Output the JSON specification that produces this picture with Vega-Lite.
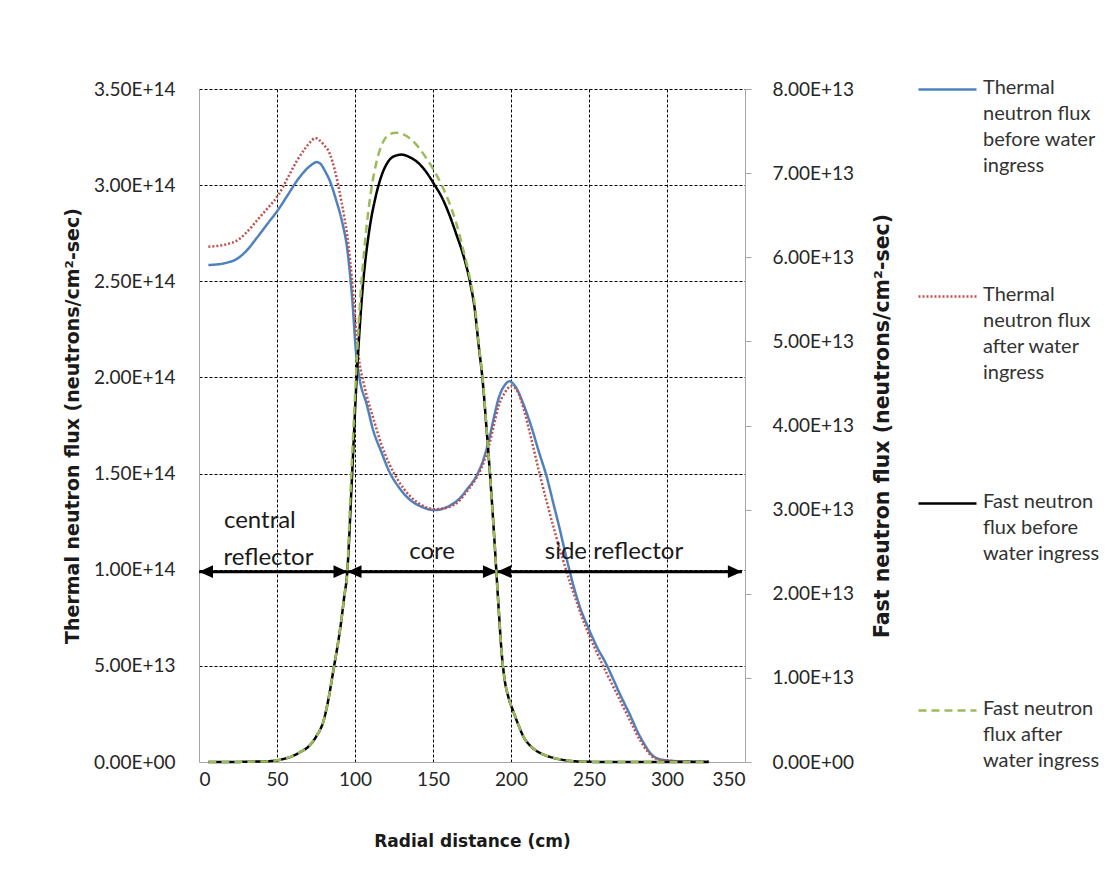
{
  "$schema": "https://vega.github.io/schema/vega-lite/v6.json",
  "width": 546,
  "height": 673,
  "autosize": {"type": "none"},
  "padding": {"left": 199, "top": 89, "right": 372, "bottom": 116},
  "background": "white",
  "config": {
    "font": "Lato",
    "view": {"stroke": null},
    "axis": {
      "labelFont": "Lato", "labelFontSize": 19, "labelColor": "#262626",
      "titleFont": "DejaVu Sans", "titleFontSize": 19, "titleFontWeight": "bold", "titleColor": "#1a1a1a",
      "domainColor": "#a6a6a6", "tickColor": "#a6a6a6",
      "gridColor": "black", "gridDash": [3, 2], "gridWidth": 1
    }
  },
  "datasets": {
    "thermal": [
      {"x": 6, "v": 2.585e14, "series": "Thermal neutron flux before water ingress"},
      {"x": 12, "v": 2.588e14, "series": "Thermal neutron flux before water ingress"},
      {"x": 18, "v": 2.597e14, "series": "Thermal neutron flux before water ingress"},
      {"x": 24, "v": 2.615e14, "series": "Thermal neutron flux before water ingress"},
      {"x": 30, "v": 2.655e14, "series": "Thermal neutron flux before water ingress"},
      {"x": 37, "v": 2.725e14, "series": "Thermal neutron flux before water ingress"},
      {"x": 44, "v": 2.8e14, "series": "Thermal neutron flux before water ingress"},
      {"x": 51, "v": 2.875e14, "series": "Thermal neutron flux before water ingress"},
      {"x": 57, "v": 2.95e14, "series": "Thermal neutron flux before water ingress"},
      {"x": 63, "v": 3.025e14, "series": "Thermal neutron flux before water ingress"},
      {"x": 68, "v": 3.075e14, "series": "Thermal neutron flux before water ingress"},
      {"x": 72, "v": 3.105e14, "series": "Thermal neutron flux before water ingress"},
      {"x": 75.5, "v": 3.12e14, "series": "Thermal neutron flux before water ingress"},
      {"x": 78, "v": 3.11e14, "series": "Thermal neutron flux before water ingress"},
      {"x": 81, "v": 3.07e14, "series": "Thermal neutron flux before water ingress"},
      {"x": 84, "v": 3.02e14, "series": "Thermal neutron flux before water ingress"},
      {"x": 88, "v": 2.92e14, "series": "Thermal neutron flux before water ingress"},
      {"x": 92, "v": 2.8e14, "series": "Thermal neutron flux before water ingress"},
      {"x": 95, "v": 2.67e14, "series": "Thermal neutron flux before water ingress"},
      {"x": 98, "v": 2.43e14, "series": "Thermal neutron flux before water ingress"},
      {"x": 101, "v": 2.1e14, "series": "Thermal neutron flux before water ingress"},
      {"x": 103, "v": 1.99e14, "series": "Thermal neutron flux before water ingress"},
      {"x": 107.5, "v": 1.86e14, "series": "Thermal neutron flux before water ingress"},
      {"x": 111.5, "v": 1.73e14, "series": "Thermal neutron flux before water ingress"},
      {"x": 117, "v": 1.61e14, "series": "Thermal neutron flux before water ingress"},
      {"x": 122, "v": 1.51e14, "series": "Thermal neutron flux before water ingress"},
      {"x": 128, "v": 1.43e14, "series": "Thermal neutron flux before water ingress"},
      {"x": 135, "v": 1.365e14, "series": "Thermal neutron flux before water ingress"},
      {"x": 142, "v": 1.33e14, "series": "Thermal neutron flux before water ingress"},
      {"x": 151, "v": 1.31e14, "series": "Thermal neutron flux before water ingress"},
      {"x": 160, "v": 1.33e14, "series": "Thermal neutron flux before water ingress"},
      {"x": 167, "v": 1.37e14, "series": "Thermal neutron flux before water ingress"},
      {"x": 172, "v": 1.42e14, "series": "Thermal neutron flux before water ingress"},
      {"x": 178, "v": 1.49e14, "series": "Thermal neutron flux before water ingress"},
      {"x": 183, "v": 1.59e14, "series": "Thermal neutron flux before water ingress"},
      {"x": 186, "v": 1.68e14, "series": "Thermal neutron flux before water ingress"},
      {"x": 189, "v": 1.79e14, "series": "Thermal neutron flux before water ingress"},
      {"x": 192, "v": 1.89e14, "series": "Thermal neutron flux before water ingress"},
      {"x": 196, "v": 1.96e14, "series": "Thermal neutron flux before water ingress"},
      {"x": 199, "v": 1.98e14, "series": "Thermal neutron flux before water ingress"},
      {"x": 203, "v": 1.95e14, "series": "Thermal neutron flux before water ingress"},
      {"x": 208, "v": 1.86e14, "series": "Thermal neutron flux before water ingress"},
      {"x": 212, "v": 1.77e14, "series": "Thermal neutron flux before water ingress"},
      {"x": 218, "v": 1.61e14, "series": "Thermal neutron flux before water ingress"},
      {"x": 223, "v": 1.48e14, "series": "Thermal neutron flux before water ingress"},
      {"x": 227, "v": 1.35e14, "series": "Thermal neutron flux before water ingress"},
      {"x": 231, "v": 1.22e14, "series": "Thermal neutron flux before water ingress"},
      {"x": 235, "v": 1.08e14, "series": "Thermal neutron flux before water ingress"},
      {"x": 238, "v": 0.98e14, "series": "Thermal neutron flux before water ingress"},
      {"x": 244, "v": 0.81e14, "series": "Thermal neutron flux before water ingress"},
      {"x": 250, "v": 0.69e14, "series": "Thermal neutron flux before water ingress"},
      {"x": 255, "v": 0.6e14, "series": "Thermal neutron flux before water ingress"},
      {"x": 261, "v": 0.51e14, "series": "Thermal neutron flux before water ingress"},
      {"x": 265, "v": 0.44e14, "series": "Thermal neutron flux before water ingress"},
      {"x": 270, "v": 0.35e14, "series": "Thermal neutron flux before water ingress"},
      {"x": 276, "v": 0.25e14, "series": "Thermal neutron flux before water ingress"},
      {"x": 281, "v": 0.16e14, "series": "Thermal neutron flux before water ingress"},
      {"x": 285, "v": 0.1e14, "series": "Thermal neutron flux before water ingress"},
      {"x": 290, "v": 0.04e14, "series": "Thermal neutron flux before water ingress"},
      {"x": 295, "v": 0.015e14, "series": "Thermal neutron flux before water ingress"},
      {"x": 300, "v": 0.008e14, "series": "Thermal neutron flux before water ingress"},
      {"x": 310, "v": 0.003e14, "series": "Thermal neutron flux before water ingress"},
      {"x": 327, "v": 0.001e14, "series": "Thermal neutron flux before water ingress"},
      {"x": 6, "v": 2.68e14, "series": "Thermal neutron flux after water ingress"},
      {"x": 12, "v": 2.684e14, "series": "Thermal neutron flux after water ingress"},
      {"x": 18, "v": 2.693e14, "series": "Thermal neutron flux after water ingress"},
      {"x": 24, "v": 2.71e14, "series": "Thermal neutron flux after water ingress"},
      {"x": 30, "v": 2.75e14, "series": "Thermal neutron flux after water ingress"},
      {"x": 37, "v": 2.815e14, "series": "Thermal neutron flux after water ingress"},
      {"x": 44, "v": 2.88e14, "series": "Thermal neutron flux after water ingress"},
      {"x": 51, "v": 2.95e14, "series": "Thermal neutron flux after water ingress"},
      {"x": 57, "v": 3.04e14, "series": "Thermal neutron flux after water ingress"},
      {"x": 63, "v": 3.13e14, "series": "Thermal neutron flux after water ingress"},
      {"x": 68, "v": 3.19e14, "series": "Thermal neutron flux after water ingress"},
      {"x": 72, "v": 3.23e14, "series": "Thermal neutron flux after water ingress"},
      {"x": 74.5, "v": 3.245e14, "series": "Thermal neutron flux after water ingress"},
      {"x": 77, "v": 3.235e14, "series": "Thermal neutron flux after water ingress"},
      {"x": 80, "v": 3.21e14, "series": "Thermal neutron flux after water ingress"},
      {"x": 84, "v": 3.16e14, "series": "Thermal neutron flux after water ingress"},
      {"x": 87, "v": 3.08e14, "series": "Thermal neutron flux after water ingress"},
      {"x": 90, "v": 2.97e14, "series": "Thermal neutron flux after water ingress"},
      {"x": 93, "v": 2.84e14, "series": "Thermal neutron flux after water ingress"},
      {"x": 95, "v": 2.74e14, "series": "Thermal neutron flux after water ingress"},
      {"x": 97, "v": 2.6e14, "series": "Thermal neutron flux after water ingress"},
      {"x": 99, "v": 2.42e14, "series": "Thermal neutron flux after water ingress"},
      {"x": 101, "v": 2.22e14, "series": "Thermal neutron flux after water ingress"},
      {"x": 103, "v": 2.07e14, "series": "Thermal neutron flux after water ingress"},
      {"x": 105, "v": 1.99e14, "series": "Thermal neutron flux after water ingress"},
      {"x": 108, "v": 1.89e14, "series": "Thermal neutron flux after water ingress"},
      {"x": 112, "v": 1.78e14, "series": "Thermal neutron flux after water ingress"},
      {"x": 117, "v": 1.65e14, "series": "Thermal neutron flux after water ingress"},
      {"x": 122, "v": 1.55e14, "series": "Thermal neutron flux after water ingress"},
      {"x": 128, "v": 1.46e14, "series": "Thermal neutron flux after water ingress"},
      {"x": 135, "v": 1.385e14, "series": "Thermal neutron flux after water ingress"},
      {"x": 142, "v": 1.34e14, "series": "Thermal neutron flux after water ingress"},
      {"x": 151, "v": 1.315e14, "series": "Thermal neutron flux after water ingress"},
      {"x": 160, "v": 1.325e14, "series": "Thermal neutron flux after water ingress"},
      {"x": 167, "v": 1.36e14, "series": "Thermal neutron flux after water ingress"},
      {"x": 172, "v": 1.41e14, "series": "Thermal neutron flux after water ingress"},
      {"x": 178, "v": 1.48e14, "series": "Thermal neutron flux after water ingress"},
      {"x": 183, "v": 1.57e14, "series": "Thermal neutron flux after water ingress"},
      {"x": 186, "v": 1.65e14, "series": "Thermal neutron flux after water ingress"},
      {"x": 189, "v": 1.75e14, "series": "Thermal neutron flux after water ingress"},
      {"x": 192, "v": 1.85e14, "series": "Thermal neutron flux after water ingress"},
      {"x": 196, "v": 1.92e14, "series": "Thermal neutron flux after water ingress"},
      {"x": 200, "v": 1.955e14, "series": "Thermal neutron flux after water ingress"},
      {"x": 204, "v": 1.93e14, "series": "Thermal neutron flux after water ingress"},
      {"x": 208, "v": 1.84e14, "series": "Thermal neutron flux after water ingress"},
      {"x": 213, "v": 1.68e14, "series": "Thermal neutron flux after water ingress"},
      {"x": 218, "v": 1.51e14, "series": "Thermal neutron flux after water ingress"},
      {"x": 223, "v": 1.35e14, "series": "Thermal neutron flux after water ingress"},
      {"x": 228, "v": 1.2e14, "series": "Thermal neutron flux after water ingress"},
      {"x": 233, "v": 1.06e14, "series": "Thermal neutron flux after water ingress"},
      {"x": 238, "v": 0.93e14, "series": "Thermal neutron flux after water ingress"},
      {"x": 243, "v": 0.81e14, "series": "Thermal neutron flux after water ingress"},
      {"x": 248, "v": 0.7e14, "series": "Thermal neutron flux after water ingress"},
      {"x": 255, "v": 0.57e14, "series": "Thermal neutron flux after water ingress"},
      {"x": 262, "v": 0.45e14, "series": "Thermal neutron flux after water ingress"},
      {"x": 270, "v": 0.32e14, "series": "Thermal neutron flux after water ingress"},
      {"x": 276, "v": 0.22e14, "series": "Thermal neutron flux after water ingress"},
      {"x": 283, "v": 0.11e14, "series": "Thermal neutron flux after water ingress"},
      {"x": 288, "v": 0.05e14, "series": "Thermal neutron flux after water ingress"},
      {"x": 292, "v": 0.02e14, "series": "Thermal neutron flux after water ingress"},
      {"x": 300, "v": 0.008e14, "series": "Thermal neutron flux after water ingress"},
      {"x": 310, "v": 0.003e14, "series": "Thermal neutron flux after water ingress"},
      {"x": 327, "v": 0.001e14, "series": "Thermal neutron flux after water ingress"}
    ],
    "fast": [
      {"x": 6, "v": 0, "series": "Fast neutron flux before water ingress"},
      {"x": 20, "v": 0, "series": "Fast neutron flux before water ingress"},
      {"x": 35, "v": 0.005e13, "series": "Fast neutron flux before water ingress"},
      {"x": 45, "v": 0.01e13, "series": "Fast neutron flux before water ingress"},
      {"x": 50, "v": 0.02e13, "series": "Fast neutron flux before water ingress"},
      {"x": 55, "v": 0.04e13, "series": "Fast neutron flux before water ingress"},
      {"x": 60, "v": 0.07e13, "series": "Fast neutron flux before water ingress"},
      {"x": 65, "v": 0.12e13, "series": "Fast neutron flux before water ingress"},
      {"x": 70, "v": 0.18e13, "series": "Fast neutron flux before water ingress"},
      {"x": 75, "v": 0.3e13, "series": "Fast neutron flux before water ingress"},
      {"x": 80, "v": 0.5e13, "series": "Fast neutron flux before water ingress"},
      {"x": 83, "v": 0.75e13, "series": "Fast neutron flux before water ingress"},
      {"x": 86.5, "v": 1.13e13, "series": "Fast neutron flux before water ingress"},
      {"x": 89, "v": 1.4e13, "series": "Fast neutron flux before water ingress"},
      {"x": 91, "v": 1.65e13, "series": "Fast neutron flux before water ingress"},
      {"x": 93, "v": 1.95e13, "series": "Fast neutron flux before water ingress"},
      {"x": 95, "v": 2.25e13, "series": "Fast neutron flux before water ingress"},
      {"x": 98, "v": 3.36e13, "series": "Fast neutron flux before water ingress"},
      {"x": 101, "v": 4.54e13, "series": "Fast neutron flux before water ingress"},
      {"x": 105, "v": 5.65e13, "series": "Fast neutron flux before water ingress"},
      {"x": 109, "v": 6.3e13, "series": "Fast neutron flux before water ingress"},
      {"x": 113, "v": 6.7e13, "series": "Fast neutron flux before water ingress"},
      {"x": 117, "v": 6.97e13, "series": "Fast neutron flux before water ingress"},
      {"x": 121, "v": 7.13e13, "series": "Fast neutron flux before water ingress"},
      {"x": 125, "v": 7.2e13, "series": "Fast neutron flux before water ingress"},
      {"x": 130, "v": 7.22e13, "series": "Fast neutron flux before water ingress"},
      {"x": 135, "v": 7.19e13, "series": "Fast neutron flux before water ingress"},
      {"x": 140, "v": 7.13e13, "series": "Fast neutron flux before water ingress"},
      {"x": 145, "v": 7.03e13, "series": "Fast neutron flux before water ingress"},
      {"x": 151, "v": 6.86e13, "series": "Fast neutron flux before water ingress"},
      {"x": 156, "v": 6.7e13, "series": "Fast neutron flux before water ingress"},
      {"x": 161, "v": 6.48e13, "series": "Fast neutron flux before water ingress"},
      {"x": 165, "v": 6.27e13, "series": "Fast neutron flux before water ingress"},
      {"x": 169.5, "v": 6.02e13, "series": "Fast neutron flux before water ingress"},
      {"x": 174, "v": 5.68e13, "series": "Fast neutron flux before water ingress"},
      {"x": 177, "v": 5.35e13, "series": "Fast neutron flux before water ingress"},
      {"x": 179, "v": 5.0e13, "series": "Fast neutron flux before water ingress"},
      {"x": 182, "v": 4.5e13, "series": "Fast neutron flux before water ingress"},
      {"x": 184.5, "v": 3.92e13, "series": "Fast neutron flux before water ingress"},
      {"x": 186.5, "v": 3.43e13, "series": "Fast neutron flux before water ingress"},
      {"x": 189.5, "v": 2.6e13, "series": "Fast neutron flux before water ingress"},
      {"x": 192, "v": 1.85e13, "series": "Fast neutron flux before water ingress"},
      {"x": 194, "v": 1.3e13, "series": "Fast neutron flux before water ingress"},
      {"x": 196, "v": 0.97e13, "series": "Fast neutron flux before water ingress"},
      {"x": 198.5, "v": 0.76e13, "series": "Fast neutron flux before water ingress"},
      {"x": 201.5, "v": 0.6e13, "series": "Fast neutron flux before water ingress"},
      {"x": 205, "v": 0.43e13, "series": "Fast neutron flux before water ingress"},
      {"x": 208, "v": 0.3e13, "series": "Fast neutron flux before water ingress"},
      {"x": 212, "v": 0.2e13, "series": "Fast neutron flux before water ingress"},
      {"x": 216.5, "v": 0.13e13, "series": "Fast neutron flux before water ingress"},
      {"x": 222, "v": 0.08e13, "series": "Fast neutron flux before water ingress"},
      {"x": 227, "v": 0.05e13, "series": "Fast neutron flux before water ingress"},
      {"x": 235, "v": 0.02e13, "series": "Fast neutron flux before water ingress"},
      {"x": 245, "v": 0.005e13, "series": "Fast neutron flux before water ingress"},
      {"x": 260, "v": 0, "series": "Fast neutron flux before water ingress"},
      {"x": 290, "v": 0, "series": "Fast neutron flux before water ingress"},
      {"x": 327, "v": 0, "series": "Fast neutron flux before water ingress"},
      {"x": 6, "v": 0, "series": "Fast neutron flux after water ingress"},
      {"x": 20, "v": 0, "series": "Fast neutron flux after water ingress"},
      {"x": 35, "v": 0.005e13, "series": "Fast neutron flux after water ingress"},
      {"x": 45, "v": 0.01e13, "series": "Fast neutron flux after water ingress"},
      {"x": 50, "v": 0.02e13, "series": "Fast neutron flux after water ingress"},
      {"x": 55, "v": 0.04e13, "series": "Fast neutron flux after water ingress"},
      {"x": 60, "v": 0.07e13, "series": "Fast neutron flux after water ingress"},
      {"x": 65, "v": 0.12e13, "series": "Fast neutron flux after water ingress"},
      {"x": 70, "v": 0.18e13, "series": "Fast neutron flux after water ingress"},
      {"x": 75, "v": 0.3e13, "series": "Fast neutron flux after water ingress"},
      {"x": 80, "v": 0.5e13, "series": "Fast neutron flux after water ingress"},
      {"x": 83, "v": 0.75e13, "series": "Fast neutron flux after water ingress"},
      {"x": 86.5, "v": 1.13e13, "series": "Fast neutron flux after water ingress"},
      {"x": 89, "v": 1.4e13, "series": "Fast neutron flux after water ingress"},
      {"x": 91, "v": 1.65e13, "series": "Fast neutron flux after water ingress"},
      {"x": 93, "v": 1.95e13, "series": "Fast neutron flux after water ingress"},
      {"x": 95, "v": 2.25e13, "series": "Fast neutron flux after water ingress"},
      {"x": 97, "v": 3.15e13, "series": "Fast neutron flux after water ingress"},
      {"x": 100, "v": 4.35e13, "series": "Fast neutron flux after water ingress"},
      {"x": 103, "v": 5.4e13, "series": "Fast neutron flux after water ingress"},
      {"x": 106, "v": 6.1e13, "series": "Fast neutron flux after water ingress"},
      {"x": 110, "v": 6.75e13, "series": "Fast neutron flux after water ingress"},
      {"x": 114, "v": 7.15e13, "series": "Fast neutron flux after water ingress"},
      {"x": 118, "v": 7.37e13, "series": "Fast neutron flux after water ingress"},
      {"x": 122, "v": 7.46e13, "series": "Fast neutron flux after water ingress"},
      {"x": 126.5, "v": 7.48e13, "series": "Fast neutron flux after water ingress"},
      {"x": 131, "v": 7.46e13, "series": "Fast neutron flux after water ingress"},
      {"x": 136, "v": 7.4e13, "series": "Fast neutron flux after water ingress"},
      {"x": 141, "v": 7.3e13, "series": "Fast neutron flux after water ingress"},
      {"x": 146, "v": 7.17e13, "series": "Fast neutron flux after water ingress"},
      {"x": 151, "v": 7.02e13, "series": "Fast neutron flux after water ingress"},
      {"x": 156, "v": 6.84e13, "series": "Fast neutron flux after water ingress"},
      {"x": 161, "v": 6.62e13, "series": "Fast neutron flux after water ingress"},
      {"x": 165, "v": 6.4e13, "series": "Fast neutron flux after water ingress"},
      {"x": 169.5, "v": 6.08e13, "series": "Fast neutron flux after water ingress"},
      {"x": 174, "v": 5.72e13, "series": "Fast neutron flux after water ingress"},
      {"x": 177, "v": 5.4e13, "series": "Fast neutron flux after water ingress"},
      {"x": 179, "v": 5.03e13, "series": "Fast neutron flux after water ingress"},
      {"x": 182, "v": 4.52e13, "series": "Fast neutron flux after water ingress"},
      {"x": 184.5, "v": 3.92e13, "series": "Fast neutron flux after water ingress"},
      {"x": 186.5, "v": 3.43e13, "series": "Fast neutron flux after water ingress"},
      {"x": 189.5, "v": 2.6e13, "series": "Fast neutron flux after water ingress"},
      {"x": 192, "v": 1.85e13, "series": "Fast neutron flux after water ingress"},
      {"x": 194, "v": 1.3e13, "series": "Fast neutron flux after water ingress"},
      {"x": 196, "v": 0.97e13, "series": "Fast neutron flux after water ingress"},
      {"x": 198.5, "v": 0.76e13, "series": "Fast neutron flux after water ingress"},
      {"x": 201.5, "v": 0.6e13, "series": "Fast neutron flux after water ingress"},
      {"x": 205, "v": 0.43e13, "series": "Fast neutron flux after water ingress"},
      {"x": 208, "v": 0.3e13, "series": "Fast neutron flux after water ingress"},
      {"x": 212, "v": 0.2e13, "series": "Fast neutron flux after water ingress"},
      {"x": 216.5, "v": 0.13e13, "series": "Fast neutron flux after water ingress"},
      {"x": 222, "v": 0.08e13, "series": "Fast neutron flux after water ingress"},
      {"x": 227, "v": 0.05e13, "series": "Fast neutron flux after water ingress"},
      {"x": 235, "v": 0.02e13, "series": "Fast neutron flux after water ingress"},
      {"x": 245, "v": 0.005e13, "series": "Fast neutron flux after water ingress"},
      {"x": 260, "v": 0, "series": "Fast neutron flux after water ingress"},
      {"x": 290, "v": 0, "series": "Fast neutron flux after water ingress"},
      {"x": 327, "v": 0, "series": "Fast neutron flux after water ingress"}
    ],
    "arrows": [
      {"x": 0, "x2": 95.2, "v": 0.99e14},
      {"x": 95.2, "x2": 191, "v": 0.99e14},
      {"x": 191, "x2": 348, "v": 0.99e14}
    ],
    "heads": [
      {"x": 0, "v": 0.99e14, "dir": "L"},
      {"x": 95.2, "v": 0.99e14, "dir": "R"},
      {"x": 95.2, "v": 0.99e14, "dir": "L"},
      {"x": 191, "v": 0.99e14, "dir": "R"},
      {"x": 191, "v": 0.99e14, "dir": "L"},
      {"x": 348, "v": 0.99e14, "dir": "R"}
    ],
    "notes": [
      {"x": 39, "v": 1.255e14, "t": "central"},
      {"x": 44.5, "v": 1.06e14, "t": "reflector"},
      {"x": 149.4, "v": 1.09e14, "t": "core"},
      {"x": 266, "v": 1.09e14, "t": "side reflector"}
    ]
  },
  "encoding": {
    "x": {
      "field": "x", "type": "quantitative",
      "scale": {"domain": [0, 350], "nice": false},
      "axis": {
        "title": "Radial distance (cm)",
        "titleFontSize": 17,
        "values": [0, 50, 100, 150, 200, 250, 300, 350],
        "ticks": false, "tickSize": 0, "labelPadding": 8, "titlePadding": 44,
        "gridOpacity": {"condition": {"test": "datum.value == 0 || datum.value == 350", "value": 0}, "value": 1}
      }
    }
  },
  "layer": [
    {
      "encoding": {
        "y": {
          "field": "v", "type": "quantitative",
          "scale": {"domain": [0, 3.5e14], "nice": false},
          "axis": {
            "title": "Thermal neutron flux (neutrons/cm²-sec)",
            "orient": "left",
            "values": [0, 5e13, 1e14, 1.5e14, 2e14, 2.5e14, 3e14, 3.5e14],
            "ticks": false, "tickSize": 0, "labelPadding": 24, "titlePadding": 11,
            "labelExpr": "datum.value == 0 ? '0.00E+00' : replace(format(datum.value, '.2e'), 'e', 'E')",
            "gridOpacity": {"condition": {"test": "datum.value == 0", "value": 0}, "value": 1}
          }
        }
      },
      "layer": [
        {
          "data": {"name": "thermal"},
          "mark": {"type": "line", "strokeWidth": 2.5, "interpolate": "monotone"},
          "encoding": {
            "color": {
              "field": "series", "type": "nominal",
              "scale": {
                "domain": ["Thermal neutron flux before water ingress", "Thermal neutron flux after water ingress", "Fast neutron flux before water ingress", "Fast neutron flux after water ingress"],
                "range": ["#4f81bd", "#c0504d", "#000000", "#9bbb59"]
              },
              "legend": {
                "orient": "none", "legendX": 718, "legendY": -30, "title": null, "padding": 0,
                "symbolType": "stroke", "symbolSize": 3364, "symbolStrokeWidth": 2.5,
                "labelFont": "Lato", "labelFontSize": 20, "labelColor": "#333333", "labelBaseline": "top",
                "labelLimit": 300, "labelOffset": 5, "rowPadding": 90,
                "labelExpr": "datum.label == 'Thermal neutron flux before water ingress' ? ['Thermal','neutron flux','before water','ingress'] : datum.label == 'Thermal neutron flux after water ingress' ? ['Thermal','neutron flux','after water','ingress'] : datum.label == 'Fast neutron flux before water ingress' ? ['Fast neutron','flux before','water ingress',' '] : ['Fast neutron','flux after','water ingress',' ']",
                "encode": {"labels": {"update": {"lineHeight": {"value": 26}, "dy": {"value": -12}}}}
              }
            },
            "strokeDash": {
              "field": "series", "type": "nominal",
              "scale": {
                "domain": ["Thermal neutron flux before water ingress", "Thermal neutron flux after water ingress", "Fast neutron flux before water ingress", "Fast neutron flux after water ingress"],
                "range": [[1, 0], [2, 2], [1, 0], [8, 5]]
              },
              "legend": {
                "orient": "none", "legendX": 718, "legendY": -30, "title": null, "padding": 0,
                "symbolType": "stroke", "symbolSize": 3364, "symbolStrokeWidth": 2.5,
                "labelFont": "Lato", "labelFontSize": 20, "labelColor": "#333333", "labelBaseline": "top",
                "labelLimit": 300, "labelOffset": 5, "rowPadding": 90,
                "labelExpr": "datum.label == 'Thermal neutron flux before water ingress' ? ['Thermal','neutron flux','before water','ingress'] : datum.label == 'Thermal neutron flux after water ingress' ? ['Thermal','neutron flux','after water','ingress'] : datum.label == 'Fast neutron flux before water ingress' ? ['Fast neutron','flux before','water ingress',' '] : ['Fast neutron','flux after','water ingress',' ']",
                "encode": {"labels": {"update": {"lineHeight": {"value": 26}, "dy": {"value": -12}}}}
              }
            }
          }
        },
        {
          "data": {"name": "arrows"},
          "mark": {"type": "rule", "color": "black", "strokeWidth": 3},
          "encoding": {
            "x2": {"field": "x2"}
          }
        },
        {
          "data": {"name": "heads"},
          "mark": {"type": "point", "filled": true, "color": "black", "opacity": 1, "size": 196},
          "encoding": {
            "shape": {
              "field": "dir", "type": "nominal", "legend": null,
              "scale": {"domain": ["L", "R"], "range": ["M0,0L2,-0.9L2,0.9Z", "M0,0L-2,-0.9L-2,0.9Z"]}
            }
          }
        },
        {
          "data": {"name": "notes"},
          "mark": {"type": "text", "font": "Lato", "fontSize": 24, "color": "#1a1a1a", "align": "center", "baseline": "middle"},
          "encoding": {
            "text": {"field": "t"}
          }
        }
      ]
    },
    {
      "data": {"name": "fast"},
      "mark": {"type": "line", "strokeWidth": 2.5, "interpolate": "monotone"},
      "encoding": {
        "y": {
          "field": "v", "type": "quantitative",
          "scale": {"domain": [0, 8e13], "nice": false},
          "axis": {
            "title": "Fast neutron flux (neutrons/cm²-sec)",
            "orient": "right",
            "values": [0, 1e13, 2e13, 3e13, 4e13, 5e13, 6e13, 7e13, 8e13],
            "grid": false, "tickSize": 6, "labelPadding": 21,
            "titleFontSize": 20.5,
            "titleAngle": 270, "titleBaseline": "top", "titlePadding": 19,
            "labelExpr": "datum.value == 0 ? '0.00E+00' : replace(format(datum.value, '.2e'), 'e', 'E')"
          }
        },
        "color": {
          "field": "series", "type": "nominal",
          "scale": {
            "domain": ["Thermal neutron flux before water ingress", "Thermal neutron flux after water ingress", "Fast neutron flux before water ingress", "Fast neutron flux after water ingress"],
            "range": ["#4f81bd", "#c0504d", "#000000", "#9bbb59"]
          }
        },
        "strokeDash": {
          "field": "series", "type": "nominal",
          "scale": {
            "domain": ["Thermal neutron flux before water ingress", "Thermal neutron flux after water ingress", "Fast neutron flux before water ingress", "Fast neutron flux after water ingress"],
            "range": [[1, 0], [2, 2], [1, 0], [8, 5]]
          }
        }
      }
    }
  ],
  "resolve": {"scale": {"y": "independent"}}
}
